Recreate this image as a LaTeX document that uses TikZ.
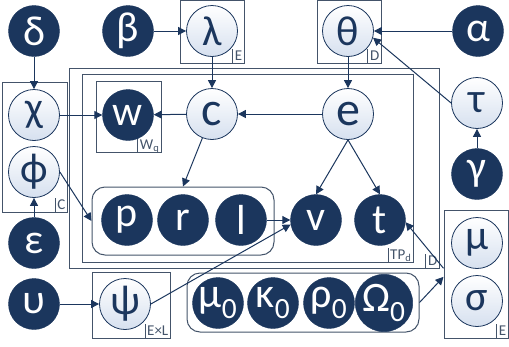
\documentclass[tikz,border=0pt]{standalone}
\usepackage{fontspec}
\setmainfont{Carlito}
\usetikzlibrary{arrows.meta,positioning,fit}
\definecolor{Navy}{HTML}{1B365D}
\definecolor{Pale}{HTML}{D6E0EF}
\definecolor{Slate}{HTML}{44546A}

\begin{document}
\begin{tikzpicture}[x=1pt,y=-1pt,
  obs/.style={circle,fill=Navy,draw=Navy,text=white,minimum size=51pt,inner sep=0pt,font=\fontsize{42}{42}\selectfont},
  lat/.style={circle,draw=Navy,line width=0.8pt,top color=white,bottom color=Pale,text=Navy,minimum size=51pt,inner sep=0pt,font=\fontsize{42}{42}\selectfont},
  plate/.style={draw=Slate,line width=1pt,inner sep=0pt},
  group/.style={plate,rounded corners=13pt},
  tag/.style={anchor=south east,text=Slate,inner xsep=2pt,inner ysep=1pt,text height=10pt,text depth=2pt,font=\fontsize{15}{15}\selectfont,
    append after command={(\tikzlastnode.south west) edge[draw=Slate,line width=1pt] (\tikzlastnode.north west)}},
  link/.style={draw=Navy,line width=1pt,-{Triangle[length=8pt,width=8pt]}}]
  \useasboundingbox (0,0) rectangle (509,346);

  % plates
  \node[plate,fit={(180,0) (244,63)}] (lplate) {};
  \node[plate,fit={(317,0) (381,63)}] (tplate) {};
  \node[plate,fit={(2,82) (67,212)}] (cplate) {};
  \node[plate,fit={(96,81) (161,152)}] (wplate) {};
  \node[plate,fit={(69,68) (439,268)}] (dplate) {};
  \node[plate,fit={(82,74) (413,262)}] (tpplate) {};
  \node[plate,fit={(92,272) (170,338)}] (psiplate) {};
  \node[plate,fit={(444,210) (508,338)}] (ms) {};
  \node[group,fit={(92,187) (274,255)}] (prl) {};
  \node[group,fit={(187,273) (419,332)}] (priors) {};
  \node[tag] at (lplate.south east) {E};
  \node[tag] at (tplate.south east) {D};
  \node[tag] at (cplate.south east) {C};
  \node[tag] at (wplate.south east) {W\textsubscript{q}};
  \node[tag] at (dplate.south east) {D};
  \node[tag] at (tpplate.south east) {TP\textsubscript{d}};
  \node[tag] at (psiplate.south east) {E×L};
  \node[tag] at (ms.south east) {E};

  % variables
  \node[obs] (delta) at (34,31) {δ};
  \node[obs] (beta) at (128,31) {β};
  \node[lat] (lambda) at (212,31) {λ};
  \node[lat] (theta) at (348,31) {θ};
  \node[obs] (alpha) at (478,31) {α};
  \node[lat] (chi) at (34,115) {χ};
  \node[obs] (w) at (128,115) {w};
  \node[lat,font=\fontsize{48}{48}\selectfont] (c) at (212,114) {c};
  \node[lat,font=\fontsize{48}{48}\selectfont] (e) at (348,114) {e};
  \node[lat] (tau) at (477,103) {τ};
  \node[lat] (phi) at (34,172) {ϕ};
  \node[obs] (gamma) at (477,174) {γ};
  \foreach \n/\x in {p/127,r/183,l/241,v/316,t/380}
    \node[obs] (\n) at (\x,220) {\n};
  \node[obs] (eps) at (34,243) {ε};
  \node[lat] (mu) at (477,243) {μ};
  \node[obs] (ups) at (34,304) {υ};
  \node[lat] (psi) at (125,304) {ψ};
  \foreach \n/\s/\x in {mu0/μ/218,kappa0/κ/273,rho0/ρ/329,omega0/Ω/384}
    \node[obs] (\n) at (\x,303) {\s\textsubscript{0}};
  \node[lat] (sigma) at (477,301) {σ};

  % dependencies
  \draw[link] (delta) -- (chi);
  \draw[link] (beta) -- (lambda);
  \draw[link] (lambda) -- (c);
  \draw[link] (theta) -- (e);
  \draw[link] (alpha) -- (theta);
  \draw[link] (tau.west) -- (theta.-15);
  \draw[link] (gamma) -- (tau);
  \draw[link] (chi) -- (w);
  \draw[link] (c) -- (w);
  \draw[link] (e) -- (c);
  \draw[link] (c) -- (r |- prl.north);
  \draw[link] (phi.east) -- (prl.west);
  \draw[link] (eps) -- (phi);
  \draw[link] (e.south) -- (v.north);
  \draw[link] (e.south) -- (t.north);
  \draw[link] (l) -- (v);
  \draw[link] (ups) -- (psi);
  \draw[link] (psi.east) -- (v.190);
  \draw[link] (priors.east) -- (ms.185);
  \draw[link] (ms.170) -- (t.-5);
\end{tikzpicture}
\end{document}
